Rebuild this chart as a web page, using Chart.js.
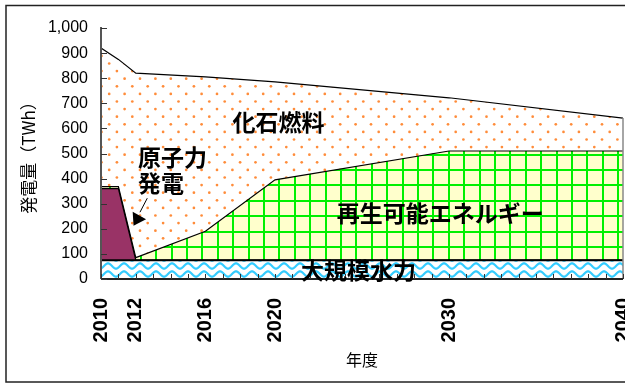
<!DOCTYPE html>
<html>
<head>
<meta charset="utf-8">
<script src="https://cdn.jsdelivr.net/npm/chart.js@4.4.1/dist/chart.umd.min.js"></script>
<style>
  html, body { margin: 0; padding: 0; background: #fff; overflow: hidden; }
</style>
</head>
<body>
<canvas id="mixChart" width="625" height="384"></canvas>
<script>
// generation by source, TWh (stacked bottom to top)
const years = [2010, 2011, 2012, 2016, 2020, 2030, 2040];
const labeledYears = [2010, 2012, 2016, 2020, 2030, 2040];
const hydro = [75, 75, 75, 75, 75, 75, 75];
const nuclear = [285, 285, 0, 0, 0, 0, 0];
const renewable = [8, 8, 10, 115, 320, 435, 435];
const fossil = [552, 507, 735, 615, 390, 212, 131];

const JP = '"Noto Sans CJK JP", "Noto Sans", sans-serif';
const NUM = '"Liberation Sans", Arial, sans-serif';

function makeTile(w, h, draw) {
  const c = document.createElement("canvas");
  c.width = w; c.height = h;
  draw(c.getContext("2d"));
  return c;
}

function makePattern(tile, tx, ty) {
  const p = document.createElement("canvas").getContext("2d").createPattern(tile, "repeat");
  p.setTransform(new DOMMatrix([1, 0, 0, 1, tx, ty]));
  return p;
}

// blue waves for hydro
const waveTile = makeTile(16, 8, g => {
  g.fillStyle = "#fff"; g.fillRect(0, 0, 16, 8);
  g.strokeStyle = "#33ccff"; g.lineWidth = 2.2;
  g.beginPath();
  for (let x = -1; x <= 17; x += 0.5) {
    const y = 4 + 2.6 * Math.sin((x / 16) * Math.PI * 2);
    if (x === -1) g.moveTo(x, y); else g.lineTo(x, y);
  }
  g.stroke();
});

// pale yellow with green grid for renewables
const gridTile = makeTile(77, 77, g => {
  g.fillStyle = "#ffffcc"; g.fillRect(0, 0, 77, 77);
  g.fillStyle = "#00f000";
  for (let i = 0; i < 5; i++) {
    const p = Math.round(i * 15.4);
    g.fillRect(p - 1, 0, 2, 77);
    g.fillRect(0, p - 1, 77, 2);
  }
  g.fillRect(76, 0, 1, 77);
  g.fillRect(0, 76, 77, 1);
});

// white with orange dots for fossil fuels
const dotTile = makeTile(77, 76, g => {
  g.fillStyle = "#fff"; g.fillRect(0, 0, 77, 76);
  g.fillStyle = "#ff8c3a";
  for (let r = 0; r < 10; r++) {
    for (let i = 0; i < 5; i++) {
      const x = i * 15.4 + (r % 2) * 7.7 + 1.5;
      const y = r * 7.6 + 1.5;
      g.beginPath(); g.arc(x, y, 1.35, 0, Math.PI * 2); g.fill();
    }
  }
});

function pts(arr) {
  return arr.map((v, i) => ({ x: years[i], y: v }));
}

const frame = {
  id: "frame",
  afterDatasetsDraw(chart) {
    const { ctx, chartArea: a, scales: { x, y } } = chart;
    ctx.save();
    // right edge of the series
    const top = hydro.at(-1) + nuclear.at(-1) + renewable.at(-1) + fossil.at(-1);
    ctx.strokeStyle = "#888"; ctx.lineWidth = 1.5;
    ctx.beginPath();
    ctx.moveTo(x.getPixelForValue(2040), y.getPixelForValue(top));
    ctx.lineTo(x.getPixelForValue(2040), y.getPixelForValue(0));
    ctx.stroke();
    // axis lines
    ctx.strokeStyle = "#555"; ctx.lineWidth = 2;
    ctx.beginPath();
    ctx.moveTo(a.left, y.getPixelForValue(1000) - 1);
    ctx.lineTo(a.left, a.bottom);
    ctx.stroke();
    ctx.strokeStyle = "#222";
    ctx.beginPath();
    ctx.moveTo(a.left, a.bottom);
    ctx.lineTo(a.right, a.bottom);
    ctx.stroke();
    // inner tick marks
    ctx.lineWidth = 1; ctx.strokeStyle = "#333";
    ctx.beginPath();
    for (let yr = 2010; yr <= 2040; yr++) {
      const px = Math.round(x.getPixelForValue(yr)) + 0.5;
      ctx.moveTo(px, a.bottom); ctx.lineTo(px, a.bottom - 5);
    }
    for (let v = 0; v <= 1000; v += 100) {
      const py = Math.round(y.getPixelForValue(v)) + 0.5;
      ctx.moveTo(a.left, py); ctx.lineTo(a.left + 6, py);
    }
    ctx.stroke();

    // labels on the areas
    const at = (yr, v) => [x.getPixelForValue(yr), y.getPixelForValue(v)];
    ctx.fillStyle = "#000";
    ctx.font = `bold 23px ${JP}`;
    ctx.textBaseline = "middle";
    ctx.textAlign = "center";
    ctx.fillText("化石燃料", ...at(2020.2, 625));
    ctx.fillText("再生可能エネルギー", ...at(2029.5, 263));
    ctx.fillText("大規模水力", ...at(2024.8, 36));
    ctx.textAlign = "left";
    ctx.fillText("原子力", ...at(2012.13, 486));
    ctx.fillText("発電", ...at(2012.13, 382));

    // pointer to the nuclear area
    ctx.beginPath();
    ctx.moveTo(...at(2011.82, 268));
    ctx.lineTo(...at(2012.59, 238));
    ctx.lineTo(...at(2011.87, 212));
    ctx.closePath();
    ctx.fill();
    ctx.lineWidth = 1;
    ctx.strokeStyle = "#000";
    ctx.beginPath();
    ctx.moveTo(...at(2012.24, 266));
    ctx.lineTo(...at(2012.66, 322));
    ctx.stroke();

    // outer frame
    ctx.strokeStyle = "#222"; ctx.lineWidth = 1.5;
    ctx.strokeRect(6, 5.5, 700, 376.5);
    ctx.restore();
  }
};

new Chart(document.getElementById("mixChart"), {
  type: "line",
  data: {
    datasets: [
      { label: "大規模水力", data: pts(hydro), fill: "origin",
        backgroundColor: makePattern(waveTile, 0, 262), borderColor: "#000", borderWidth: 2 },
      { label: "原子力発電", data: pts(nuclear), fill: "-1",
        backgroundColor: "#993366", borderColor: "#000", borderWidth: 1.2 },
      { label: "再生可能エネルギー", data: pts(renewable), fill: "-1",
        backgroundColor: makePattern(gridTile, 33, 16), borderColor: "#000", borderWidth: 1.2 },
      { label: "化石燃料", data: pts(fossil), fill: "-1",
        backgroundColor: makePattern(dotTile, 23, 24), borderColor: "#000", borderWidth: 1.2 }
    ]
  },
  options: {
    responsive: false,
    devicePixelRatio: 1,
    animation: false,
    layout: { padding: { top: 28, right: 2, left: 0, bottom: 0 } },
    elements: { point: { radius: 0 }, line: { tension: 0 } },
    plugins: { legend: { display: false }, tooltip: { enabled: false } },
    scales: {
      x: {
        type: "linear", min: 2010, max: 2040,
        afterBuildTicks: s => { s.ticks = labeledYears.map(v => ({ value: v })); },
        afterFit: s => { s.height = 105; s.paddingLeft = 0; s.paddingRight = 0; },
        grid: { display: false, drawTicks: false },
        border: { display: false },
        ticks: {
          autoSkip: false, minRotation: 90, maxRotation: 90, padding: 19,
          color: "#000", font: { family: NUM, size: 20, weight: "bold" },
          callback: v => String(v)
        },
        title: {
          display: true, text: "年度", color: "#000",
          font: { family: JP, size: 16 }, padding: { top: 0, bottom: 14 }
        }
      },
      y: {
        stacked: true, min: 0, max: 1000,
        afterFit: s => { s.width = 101; },
        grid: { display: false, drawTicks: false },
        border: { display: false },
        ticks: {
          stepSize: 100, padding: 13, color: "#000",
          font: { family: NUM, size: 16 },
          callback: v => v.toLocaleString("en-US")
        },
        title: {
          display: true, text: "発電量（TWh）", color: "#000",
          font: { family: JP, size: 17 }, padding: { top: 18, bottom: 0 }
        }
      }
    }
  },
  plugins: [frame]
});
</script>
</body>
</html>
